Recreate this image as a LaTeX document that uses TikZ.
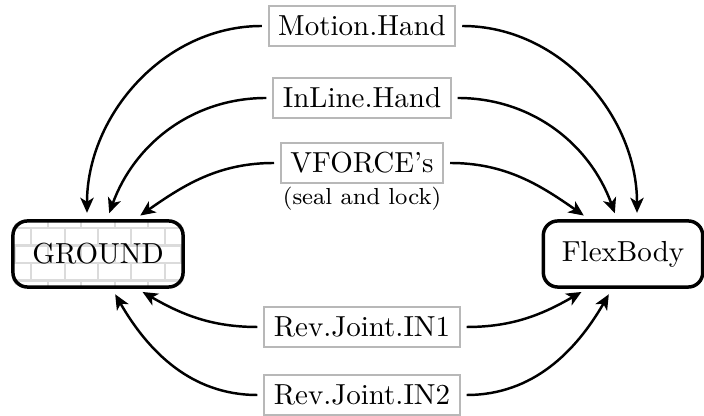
\documentclass[tikz,border=0pt]{standalone}
\usetikzlibrary{arrows.meta,calc,backgrounds}
\begin{document}
\begin{tikzpicture}[x=0.345pt,y=0.345pt,
  mainbox/.style={draw, line width=1.2pt, rounded corners=5pt, minimum height=22.8pt, inner sep=0pt},
  lbl/.style={draw=black!28, line width=0.7pt, inner sep=3.33pt},
  arr/.style={line width=0.85pt, -{Stealth[length=5.2pt,width=4.6pt,inset=1.4pt]}, shorten >=2.2pt, shorten <=2pt},
  brick/.style={draw=black!14, line width=0.7pt}]
\useasboundingbox (0,0) rectangle (704,416);
% main boxes
\node[mainbox, minimum width=58.7pt] (ground) at (98,162) {GROUND};
\node[mainbox, minimum width=55pt] (flex) at (623,162) {FlexBody};
\begin{scope}[on background layer]
  \clip[rounded corners=5pt] (ground.south west) rectangle (ground.north east);
  \foreach \j in {0,...,3} {\draw[brick] (0,188-17.5*\j) -- (200,188-17.5*\j);}
  \foreach \j in {0,2,4} {\foreach \k in {-1,...,5} {\draw[brick] (48+33.3*\k,188-17.5*\j) -- ++(0,17.5);}}
  \foreach \j in {1,3} {\foreach \k in {-1,...,5} {\draw[brick] (31.35+33.3*\k,188-17.5*\j) -- ++(0,17.5);}}
\end{scope}
% labels
\node[lbl] (motion) at (362,390) {Motion.Hand};
\node[lbl] (inline) at (362,318) {InLine.Hand};
\node[lbl] (vforce) at (362,253) {VFORCE's};
\node[font=\footnotesize, anchor=north, yshift=2.4pt] (vsub) at (vforce.south) {(seal and lock)};
\node[lbl] (in1) at (362,89) {Rev.Joint.IN1};
\node[lbl] (in2) at (362,21) {Rev.Joint.IN2};
% connectors
\draw[arr] (motion.west) to[out=180,in=90] ($(ground.north)+(-11,0)$);
\draw[arr] (inline.west) to[out=180,in=70] ($(ground.north)+(9,0)$);
\draw[arr] (vforce.west) to[out=180,in=35] ($(ground.north)+(37,0)$);
\draw[arr] (motion.east) to[out=0,in=90] ($(flex.north)+(14,0)$);
\draw[arr] (inline.east) to[out=0,in=110] ($(flex.north)+(-6,0)$);
\draw[arr] (vforce.east) to[out=0,in=145] ($(flex.north)+(-34,0)$);
\draw[arr] (in1.west) to[out=180,in=-30] ($(ground.south)+(39,0)$);
\draw[arr] (in2.west) to[out=180,in=-60] ($(ground.south)+(14,0)$);
\draw[arr] (in1.east) to[out=0,in=-150] ($(flex.south)+(-36,0)$);
\draw[arr] (in2.east) to[out=0,in=-120] ($(flex.south)+(-11,0)$);
\end{tikzpicture}
\end{document}
